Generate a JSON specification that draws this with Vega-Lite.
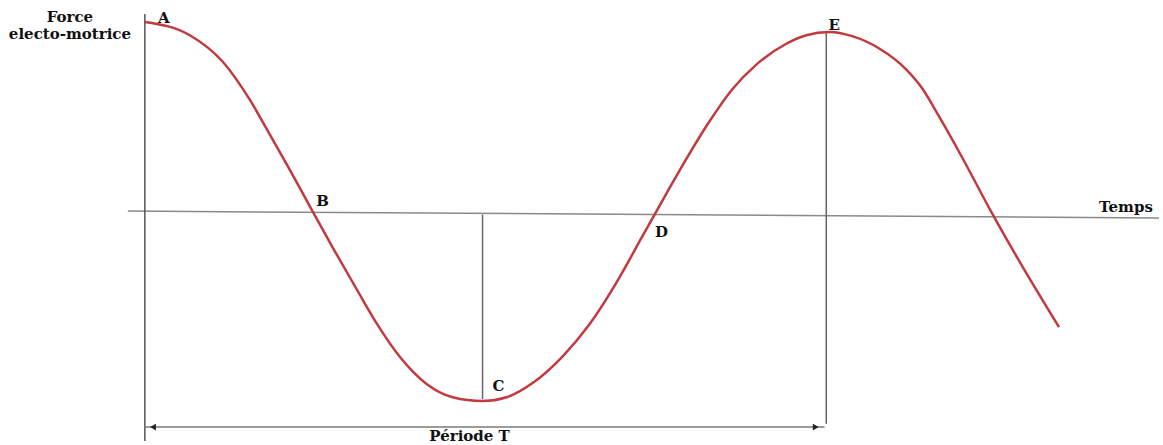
{
  "$schema": "https://vega.github.io/schema/vega-lite/v6.json",
  "width": 1163,
  "height": 445,
  "autosize": {"type": "fit", "contains": "padding"},
  "padding": 0,
  "background": "white",
  "config": {"view": {"stroke": null}},
  "datasets": {
    "curve": [
      {"t": 0.0, "v": 10.0}, {"t": 0.661, "v": 9.3}, {"t": 1.145, "v": 7.9}, {"t": 1.542, "v": 5.9},
      {"t": 1.8, "v": 4.3}, {"t": 2.1, "v": 2.4}, {"t": 2.467, "v": 0.0},
      {"t": 2.761, "v": -1.9}, {"t": 3.113, "v": -4.1}, {"t": 3.407, "v": -5.9}, {"t": 3.744, "v": -7.65},
      {"t": 4.141, "v": -9.1}, {"t": 4.523, "v": -9.8}, {"t": 4.963, "v": -10.0}, {"t": 5.316, "v": -9.8},
      {"t": 5.698, "v": -9.05}, {"t": 6.138, "v": -7.65}, {"t": 6.535, "v": -5.95}, {"t": 6.931, "v": -3.75},
      {"t": 7.313, "v": -1.3}, {"t": 7.665, "v": 0.95}, {"t": 7.856, "v": 2.15},
      {"t": 8.297, "v": 4.75}, {"t": 8.634, "v": 6.45}, {"t": 8.987, "v": 7.75}, {"t": 9.427, "v": 8.85},
      {"t": 9.721, "v": 9.3}, {"t": 10.059, "v": 9.47}, {"t": 10.396, "v": 9.25}, {"t": 10.793, "v": 8.6},
      {"t": 11.189, "v": 7.5}, {"t": 11.424, "v": 6.5}, {"t": 11.674, "v": 5.0}, {"t": 12.012, "v": 2.85},
      {"t": 12.452, "v": -0.1}, {"t": 12.849, "v": -2.6}, {"t": 13.436, "v": -6.1}
    ],
    "timeaxis": [{"t": -0.25, "v": 0.026}, {"t": 14.905, "v": -0.342}],
    "verticals": [
      {"name": "axe", "t": 0.0, "v1": 10.421, "v2": -12.105, "c": "#555555"},
      {"name": "C", "t": 4.963, "v1": -0.158, "v2": -9.895, "c": "#666666"},
      {"name": "E", "t": 10.015, "v1": 9.474, "v2": -11.2, "c": "#666666"}
    ],
    "period": [{"t1": 0.0, "t2": 9.99, "v": -11.368}],
    "arrowheads": [
      {"t": 0.12, "v": -11.368, "shape": "triangle-left"},
      {"t": 9.86, "v": -11.368, "shape": "triangle-right"}
    ],
    "labels": [
      {"label": "Force", "t": -1.101, "v": 10.263},
      {"label": "electo-motrice", "t": -1.101, "v": 9.368},
      {"label": "A", "t": 0.279, "v": 10.21},
      {"label": "B", "t": 2.614, "v": 0.579},
      {"label": "C", "t": 5.198, "v": -9.21},
      {"label": "D", "t": 7.592, "v": -1.105},
      {"label": "E", "t": 10.132, "v": 9.842},
      {"label": "Temps", "t": 14.42, "v": 0.263},
      {"label": "Période T", "t": 4.772, "v": -11.85}
    ]
  },
  "layer": [
    {
      "data": {"name": "timeaxis"},
      "mark": {"type": "line", "stroke": "#8a8a8a", "strokeWidth": 1.5},
      "encoding": {
        "x": {"field": "t", "type": "quantitative", "scale": {"domain": [-2.129, 14.949], "nice": false, "zero": false}, "axis": null},
        "y": {"field": "v", "type": "quantitative", "scale": {"domain": [-12.263, 11.158], "nice": false, "zero": false}, "axis": null}
      }
    },
    {
      "data": {"name": "verticals"},
      "mark": {"type": "rule", "strokeWidth": 1.5},
      "encoding": {
        "x": {"field": "t", "type": "quantitative"},
        "y": {"field": "v1", "type": "quantitative"},
        "y2": {"field": "v2"},
        "color": {"field": "c", "type": "nominal", "scale": null, "legend": null}
      }
    },
    {
      "data": {"name": "period"},
      "mark": {"type": "rule", "stroke": "#7a7a7a", "strokeWidth": 1.5},
      "encoding": {
        "x": {"field": "t1", "type": "quantitative"},
        "x2": {"field": "t2"},
        "y": {"field": "v", "type": "quantitative"}
      }
    },
    {
      "data": {"name": "arrowheads"},
      "mark": {"type": "point", "filled": true, "color": "#222222", "size": 45, "opacity": 1},
      "encoding": {
        "x": {"field": "t", "type": "quantitative"},
        "y": {"field": "v", "type": "quantitative"},
        "shape": {"field": "shape", "type": "nominal", "scale": null, "legend": null}
      }
    },
    {
      "data": {"name": "curve"},
      "mark": {"type": "line", "stroke": "#c23a3f", "strokeWidth": 2.5, "interpolate": "monotone"},
      "encoding": {
        "x": {"field": "t", "type": "quantitative"},
        "y": {"field": "v", "type": "quantitative"}
      }
    },
    {
      "data": {"name": "labels"},
      "mark": {"type": "text", "font": "DejaVu Serif", "fontWeight": "bold", "fontSize": 15, "color": "#111111", "align": "center", "baseline": "middle"},
      "encoding": {
        "x": {"field": "t", "type": "quantitative"},
        "y": {"field": "v", "type": "quantitative"},
        "text": {"field": "label", "type": "nominal"}
      }
    }
  ]
}
